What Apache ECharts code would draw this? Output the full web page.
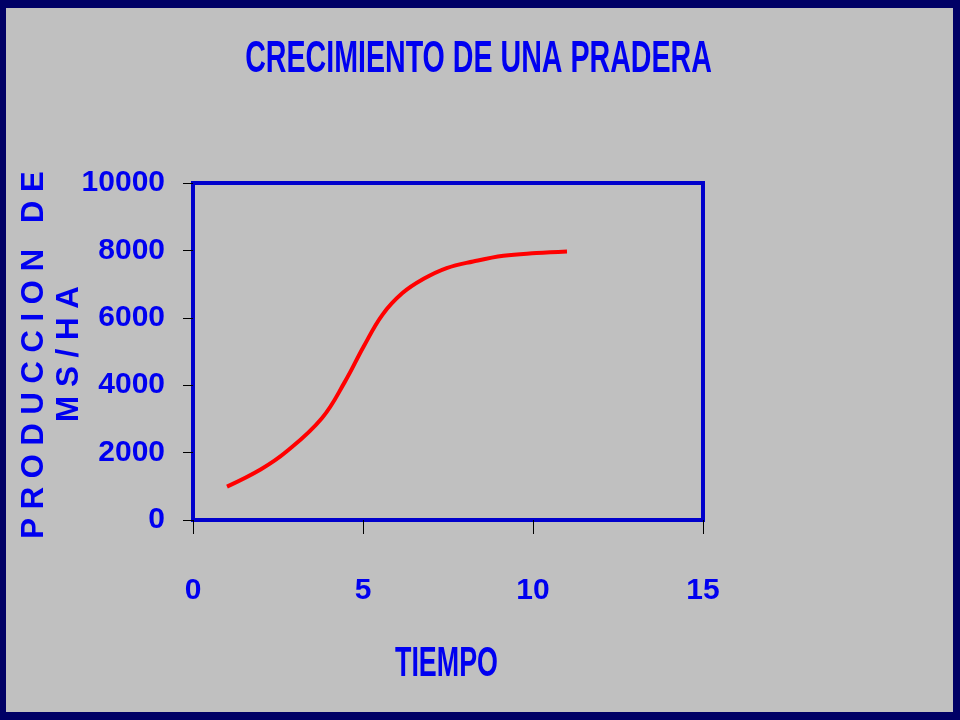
<!DOCTYPE html>
<html>
<head>
<meta charset="utf-8">
<script src="https://cdn.jsdelivr.net/npm/echarts@6/dist/echarts.min.js"></script>
<style>
html,body{margin:0;padding:0;background:#000066;}
#frame{position:absolute;left:0;top:0;width:960px;height:720px;background:#000066;}
#chart{position:absolute;left:6px;top:8px;width:947px;height:704px;background:#c0c0c0;}
</style>
</head>
<body>
<div id="frame"><div id="chart"></div></div>
<script>
const titleText = 'CRECIMIENTO DE UNA PRADERA';
const xName = 'TIEMPO';
const yNameLine1 = 'P R O D U C C I O N   D E';
const yNameLine2 = 'M S / H A';
const tiempo = [1, 2, 2.75, 3.79, 4.47, 5.02, 5.57, 6.16, 6.77, 7.46, 8.24, 9.13, 10.1, 11];
const produccion = [990, 1505, 2030, 3020, 4106, 5148, 6089, 6733, 7149, 7475, 7671, 7841, 7920, 7970];

const blue = '#0000f0';
const sansBold = "'Liberation Sans',Arial,sans-serif";
const OX = 6, OY = 8;
const chart = echarts.init(document.getElementById('chart'));

function txt(text, x, y, size, sx, rot) {
  return {
    type: 'text', x: x - OX, y: y - OY, rotation: rot || 0, scaleX: sx, scaleY: 1,
    silent: true,
    style: {text: text, fill: blue, font: 'bold ' + size + 'px ' + sansBold,
            align: 'center', verticalAlign: 'middle'}
  };
}

chart.setOption({
  backgroundColor: '#c0c0c0',
  animation: false,
  graphic: [
    txt(titleText, 478.5, 60, 44, 0.65, 0),
    txt(xName, 446.5, 664, 42, 0.64, 0),
    txt(yNameLine1, 34, 355, 32, 0.97, Math.PI / 2),
    txt(yNameLine2, 69, 354, 32, 0.98, Math.PI / 2)
  ],
  grid: {left: 187, top: 175, width: 510, height: 337, show: true,
         outerBoundsMode: 'none', containLabel: false,
         borderColor: '#0000cc', borderWidth: 4, backgroundColor: 'transparent'},
  xAxis: {
    type: 'value', min: 0, max: 15, interval: 5,
    axisLine: {show: false},
    axisTick: {show: true, length: 14, lineStyle: {color: '#000', width: 1}},
    axisLabel: {color: blue, fontFamily: sansBold, fontWeight: 'bold', fontSize: 30, margin: 56,
                formatter: v => String(v)},
    splitLine: {show: false}
  },
  yAxis: {
    type: 'value', min: 0, max: 10000, interval: 2000,
    axisLine: {show: false},
    axisTick: {show: true, length: 10, lineStyle: {color: '#000', width: 1}},
    axisLabel: {color: blue, fontFamily: sansBold, fontWeight: 'bold', fontSize: 30, margin: 28,
                formatter: v => String(v)},
    splitLine: {show: false}
  },
  series: [{
    type: 'line',
    data: tiempo.map((x, i) => [x, produccion[i]]),
    smooth: 0.4,
    showSymbol: false,
    lineStyle: {color: '#ff0000', width: 4}
  }]
});
</script>
</body>
</html>
